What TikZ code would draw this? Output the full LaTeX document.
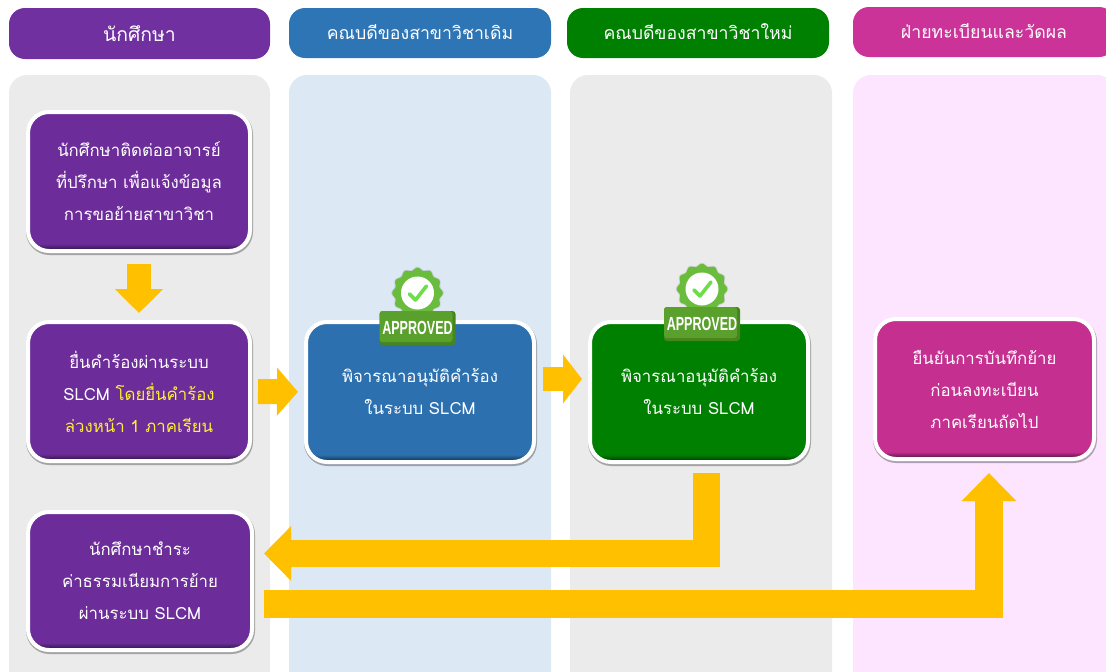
\documentclass[tikz,border=0pt]{standalone}
\usepackage{fontspec}
\setmainfont[Script=Thai]{Loma}
\newfontfamily\approvedfont{Liberation Sans}
\usetikzlibrary{arrows.meta,shadows}
\definecolor{cpurple}{HTML}{7030A0}
\definecolor{cblue}{HTML}{2E75B6}
\definecolor{cgreen}{HTML}{008000}
\definecolor{cpink}{HTML}{CC3399}
\definecolor{boxpurple}{HTML}{6C2D9A}
\definecolor{boxblue}{HTML}{2C70AF}
\definecolor{boxpink}{HTML}{C53090}
\definecolor{flow}{HTML}{FFC000}
\definecolor{sunny}{HTML}{FFEE33}
\definecolor{lanepink}{HTML}{FDE4FF}
\definecolor{laneblue}{HTML}{DDE8F5}
\definecolor{lanegrey}{HTML}{EBEBEB}
\pgfdeclareverticalshading{edgepurple}{100bp}{color(0bp)=(boxpurple!50!black);color(25.6bp)=(boxpurple!50!black);color(27.6bp)=(boxpurple);color(100bp)=(boxpurple)}
\pgfdeclareverticalshading{edgeblue}{100bp}{color(0bp)=(boxblue!50!black);color(25.6bp)=(boxblue!50!black);color(27.6bp)=(boxblue);color(100bp)=(boxblue)}
\pgfdeclareverticalshading{edgegreen}{100bp}{color(0bp)=(cgreen!50!black);color(25.6bp)=(cgreen!50!black);color(27.6bp)=(cgreen);color(100bp)=(cgreen)}
\pgfdeclareverticalshading{edgepink}{100bp}{color(0bp)=(boxpink!50!black);color(25.6bp)=(boxpink!50!black);color(27.6bp)=(boxpink);color(100bp)=(boxpink)}
\definecolor{approvedbright}{HTML}{6ABD3C}
\definecolor{approvedcheck}{HTML}{6FDD4B}
\definecolor{approvedbanner}{HTML}{5AA02C}
\definecolor{approveddark}{HTML}{47851F}
\tikzset{
  lane/.style={rounded corners=18pt},
  header/.style={rounded corners=16pt,inner sep=0pt,outer sep=0pt,text=white,
    font=\fontsize{17.7}{22}\selectfont,minimum width=262pt,minimum height=50pt},
  stepbox/.style={draw=white,line width=4pt,rounded corners=21pt,inner sep=0pt,outer sep=0pt,
    text=white,align=center,text width=190pt,font=\fontsize{16.8}{32}\selectfont,
    drop shadow={shadow xshift=0.5pt,shadow yshift=-1.5pt,opacity=.3,fill=black,draw=black,line width=5pt}},
  flowline/.style={draw=flow,line join=miter},
  pics/badge/.style={code={
    \fill[black,opacity=.1] plot[domain=0:360,samples=121] (\x:{25+1.3*cos(12*\x)});
    \fill[approvedbright] plot[domain=0:360,samples=121] (\x:{24+1.3*cos(12*\x)});
    \fill[white] (0,0) circle (16.5pt);
    \draw[approvedcheck,line width=3.6pt,line cap=round,line join=round] (-8,1) -- (-2,7) -- (9,-7);
    \fill[approveddark,rounded corners=3pt] (-38,18) rectangle (38,52);
    \fill[approvedbanner,rounded corners=3pt] (-38,18) rectangle (35,49);
    \node[text=white,inner sep=0pt,xscale=.66,font=\approvedfont\bfseries\fontsize{19}{19}\selectfont] (-label) at (0,34.5) {APPROVED};
  }},
}
\begin{document}
\begin{tikzpicture}[x=1pt,y=-1pt]
\useasboundingbox (0,0) rectangle (1106,672);
\clip (0,0) rectangle (1106,672);
% lanes
\fill[lane,fill=lanegrey] (9,75) rectangle (270,720);
\fill[lane,fill=laneblue] (289,75) rectangle (551,720);
\fill[lane,fill=lanegrey] (570,75) rectangle (832,720);
\fill[lane,fill=lanepink] (853,75) rectangle (1115,720);
% headers
\node[header,fill=cpurple,minimum width=261pt,minimum height=51pt,font=\fontsize{19.4}{22}\selectfont] (h1) at (139.5,33.5) {นักศึกษา};
\node[header,fill=cblue] (h2) at (420,33) {\raisebox{1.5pt}{คณบดีของสาขาวิชาเดิม}};
\node[header,fill=cgreen] (h3) at (698,33) {\raisebox{2pt}{คณบดีของสาขาวิชาใหม่}};
\node[header,fill=cpink] (h4) at (984,32) {\raisebox{1.5pt}{ฝ่ายทะเบียนและวัดผล}};
% steps
\node[stepbox,shade,shading=edgepurple,minimum width=222pt,minimum height=139pt] (s1) at (139,181.5)
  {นักศึกษาติดต่ออาจารย์\\ที่ปรึกษา เพื่อแจ้งข้อมูล\\การขอย้ายสาขาวิชา};
\node[stepbox,shade,shading=edgepurple,minimum width=222pt,minimum height=139pt] (s2) at (139,391.5)
  {ยื่นคำร้องผ่านระบบ\\SLCM {\color{sunny}โดยยื่นคำร้อง}\\{\color{sunny}ล่วงหน้า 1 ภาคเรียน}};
\node[stepbox,shade,shading=edgepurple,minimum width=224pt,minimum height=138pt] (s3) at (140,581)
  {นักศึกษาชำระ\\ค่าธรรมเนียมการย้าย\\ผ่านระบบ SLCM};
\node[stepbox,shade,shading=edgeblue,minimum width=228pt,minimum height=140pt] (b1) at (420,392)
  {พิจารณาอนุมัติคำร้อง\\ในระบบ SLCM};
\node[stepbox,shade,shading=edgegreen,minimum width=218pt,minimum height=140pt] (g1) at (699,392)
  {พิจารณาอนุมัติคำร้อง\\ในระบบ SLCM};
\node[stepbox,shade,shading=edgepink,minimum width=219pt,minimum height=140pt] (p1) at (984.5,389)
  {ยืนยันการบันทึกย้าย\\ก่อนลงทะเบียน\\ภาคเรียนถัดไป};
% badges
\pic (badgeb) at (417.5,293) {badge};
\pic (badgeg) at (702,289) {badge};
% connectors
\draw[flowline,line width=24pt,shorten <=13pt,shorten >=9pt,-{Triangle[length=24pt,width=47pt]}] (s1.south) -- (s2.north);
\draw[flowline,line width=25pt,shorten <=8pt,shorten >=8pt,-{Triangle[length=21pt,width=47pt]}] (s2.east) -- (b1.west);
\draw[flowline,line width=24pt,shorten <=9pt,shorten >=8pt,-{Triangle[length=19pt,width=48pt]}] ([yshift=13pt]b1.east) -- ([yshift=13pt]g1.west);
\draw[flowline,line width=27pt,shorten <=11pt,shorten >=12pt,-{Triangle[length=27pt,width=53pt]}] ([xshift=7pt]g1.south) |- ([yshift=27.5pt]s3.east);
\draw[flowline,line width=28pt,shorten <=12pt,shorten >=14pt,-{Triangle[length=28pt,width=53pt]}] ([yshift=-23pt]s3.east) -| ([xshift=4.5pt]p1.south);
\end{tikzpicture}
\end{document}
